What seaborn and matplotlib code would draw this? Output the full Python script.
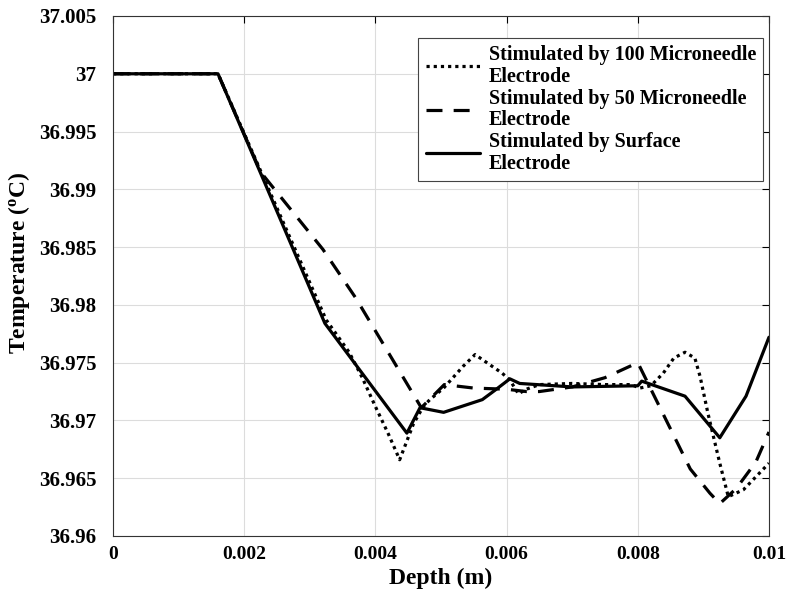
import numpy as np
import pandas as pd
import matplotlib
matplotlib.use("Agg")
import matplotlib.pyplot as plt
import seaborn as sns

# ---- data ----
depth_100 = [0, 0.0016, 0.00225, 0.00325, 0.0036, 0.0038, 0.0040, 0.0042, 0.00437,
             0.00458, 0.00473, 0.00483, 0.00504, 0.00534, 0.00552, 0.00575, 0.00593,
             0.00605, 0.00618, 0.0063, 0.0065, 0.007, 0.0075, 0.0079, 0.00803, 0.0082,
             0.00839, 0.00855, 0.00872, 0.00887, 0.00895, 0.00907, 0.00925, 0.00938,
             0.00961, 0.01]
temp_100 = [37, 37, 36.9916, 36.9787, 36.9759, 36.9737, 36.9712, 36.9688, 36.9666,
            36.9697, 36.9712, 36.9718, 36.9728, 36.9747, 36.9757, 36.9748, 36.9741,
            36.9735, 36.9723, 36.9727, 36.9731, 36.9732, 36.9731, 36.9731, 36.9728, 36.9730,
            36.9741, 36.9754, 36.9759, 36.9754, 36.9738, 36.9706, 36.9663, 36.9634,
            36.9640, 36.9663]

depth_50 = [0, 0.0016, 0.00225, 0.0032, 0.0037, 0.0047, 0.00505, 0.0055, 0.0060,
            0.0063, 0.0065, 0.0070, 0.0075, 0.0080, 0.0088, 0.0091, 0.00925, 0.0095,
            0.0098, 0.01]
temp_50 = [37, 37, 36.9915, 36.9848, 36.9806, 36.9711, 36.9731, 36.9728, 36.9727,
           36.9725, 36.9725, 36.9729, 36.9737, 36.9750, 36.9658, 36.9637, 36.9628, 36.9641,
           36.9664, 36.9690]

depth_surf = [0, 0.0016, 0.00225, 0.00323, 0.00448, 0.00468, 0.00504, 0.00563, 0.00582,
              0.00605, 0.0062, 0.007, 0.0080, 0.00806, 0.00872, 0.00925, 0.00965, 0.01]
temp_surf = [37, 37, 36.9914, 36.9784, 36.9689, 36.9711, 36.9707, 36.9718, 36.9726,
             36.9736, 36.9732, 36.9729, 36.9730, 36.9734, 36.9721, 36.9685, 36.9721, 36.9772]

series_names = ["Stimulated by 100 Microneedle\nElectrode",
                "Stimulated by 50 Microneedle\nElectrode",
                "Stimulated by Surface\nElectrode"]

x_ticks = [0, 0.002, 0.004, 0.006, 0.008, 0.01]
x_tick_labels = ["0", "0.002", "0.004", "0.006", "0.008", "0.01"]
y_ticks = [36.96, 36.965, 36.97, 36.975, 36.98, 36.985, 36.99, 36.995, 37, 37.005]
y_tick_labels = ["36.96", "36.965", "36.97", "36.975", "36.98", "36.985",
                 "36.99", "36.995", "37", "37.005"]

# ---- build long table ----
frames = []
for name, xs, ys in zip(series_names, [depth_100, depth_50, depth_surf],
                        [temp_100, temp_50, temp_surf]):
    frames.append(pd.DataFrame({"Depth": xs, "Temp": ys, "Series": name}))
df = pd.concat(frames, ignore_index=True)

sns.set_theme(style="white")
plt.rcParams["font.family"] = ["Liberation Serif", "DejaVu Serif"]
plt.rcParams["font.weight"] = "bold"
plt.rcParams["text.color"] = "black"
plt.rcParams["axes.labelcolor"] = "black"
plt.rcParams["xtick.color"] = "black"
plt.rcParams["ytick.color"] = "black"
plt.rcParams["mathtext.fontset"] = "custom"
plt.rcParams["mathtext.rm"] = "Liberation Serif:bold"
plt.rcParams["mathtext.it"] = "Liberation Serif:bold"
plt.rcParams["mathtext.bf"] = "Liberation Serif:bold"

fig = plt.figure(figsize=(7.87, 5.99), dpi=100)
ax = fig.add_axes([0.1436, 0.1052, 0.8335, 0.8681])

dash_map = {series_names[0]: (1.0, 1.25),
            series_names[1]: (5.0, 3.5),
            series_names[2]: ""}
sns.lineplot(data=df, x="Depth", y="Temp", style="Series", hue="Series",
             palette=["black"] * 3, dashes=dash_map, estimator=None, sort=False,
             linewidth=2.3, ax=ax, legend=True)

ax.set_xlim(0, 0.01)
ax.set_ylim(36.96, 37.005)
ax.set_xticks(x_ticks)
ax.set_xticklabels(x_tick_labels)
ax.set_yticks(y_ticks)
ax.set_yticklabels(y_tick_labels)
ax.tick_params(axis="both", which="both", direction="in", length=5, width=0.8,
               top=True, right=True, colors="black")
ax.tick_params(axis="x", labelsize=14, pad=7)
ax.tick_params(axis="y", labelsize=15, pad=12)
for lab in ax.get_xticklabels() + ax.get_yticklabels():
    lab.set_fontweight("bold")
ax.grid(True, color="#dcdcdc", linewidth=0.8)
for sp in ax.spines.values():
    sp.set_color("#333333")
    sp.set_linewidth(0.8)

ax.set_xlabel("Depth (m)", fontsize=17, fontweight="bold", labelpad=4, color="black")
ax.set_ylabel(r"Temperature ($^{\mathrm{o}}$C)", fontsize=17, fontweight="bold",
              color="black")
ax.yaxis.set_label_coords(-0.124, 0.525)

handles, labels = ax.get_legend_handles_labels()
leg = ax.legend(handles, labels, loc="upper right", bbox_to_anchor=(0.9915, 0.9575),
                fontsize=14.5, frameon=True, fancybox=False, edgecolor="#444444",
                framealpha=1, labelspacing=0.1, handlelength=2.7, handletextpad=0.45,
                borderpad=0.35, borderaxespad=0.0)
leg.get_frame().set_linewidth(0.8)
for t in leg.get_texts():
    t.set_fontweight("bold")
    t.set_color("black")
    t.set_linespacing(1.1)
for h in leg.get_lines():
    h.set_linewidth(2.3)

fig.savefig("out.png", dpi=100)
